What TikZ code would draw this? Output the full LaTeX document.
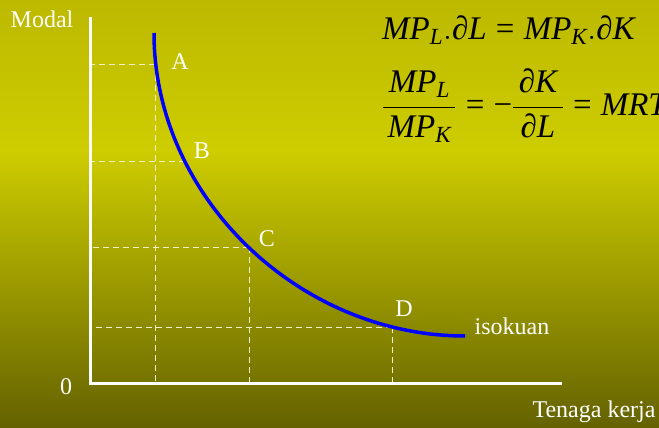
\documentclass[tikz,border=0pt]{standalone}
\usepackage{amsmath}
\usepackage{fix-cm}
\usepackage{fontspec}
\setmainfont{Liberation Serif}
\definecolor{bgtop}{RGB}{188,185,0}
\definecolor{bgmid}{RGB}{206,205,0}
\definecolor{bgbot}{RGB}{100,98,0}
\definecolor{guidecol}{RGB}{240,240,200}
\newcommand{\iv}[1]{\textit{#1}}
\newcommand{\eqs}{\mathrel{\text{=}}}
\newcommand{\mns}{\mathord{\text{−}}}

\begin{document}
\begin{tikzpicture}[x=1pt,y=-1pt,
    axis/.style={white,line width=3pt},
    isoquant/.style={blue,line width=3.5pt},
    guide/.style={guidecol,line width=1pt,dash pattern=on 6pt off 4pt},
    lbl/.style={white,font=\fontsize{24}{28}\selectfont,inner sep=0pt},
    eqn/.style={black,anchor=west,inner sep=0pt,font=\fontsize{33}{40}\selectfont}]
\useasboundingbox (0,0) rectangle (659,428);
\clip (0,0) rectangle (659,428);
\shade[top color=bgtop,bottom color=bgmid] (0,0) rectangle (659,150);
\shade[top color=bgmid,bottom color=bgbot] (0,150) rectangle (659,428);
% axes
\coordinate (O) at (90,383);
\coordinate (ytop) at (90,17);
\coordinate (xend) at (562,383);
% points on the curve
\coordinate (top) at (154,33);
\coordinate (A) at (155,65);
\coordinate (B) at (185,161);
\coordinate (C) at (249,247);
\coordinate (D) at (392,327);
\coordinate (end) at (465,336);
% guides
\draw[guide] (A) -- (A -| O);
\draw[guide] (B) -- (B -| O);
\draw[guide] (C) -- (C -| O);
\draw[guide] (D) -- (D -| O);
\draw[guide] (A) -- (A |- O);
\draw[guide] (C) -- (C |- O);
\draw[guide] (D) -- (D |- O);
\draw[axis] (ytop) -- (O) -- (xend);
\draw[isoquant] (top) .. controls (154,198) and (300,336) .. (end);
\node[lbl] (modal) at (42,19) {Modal};
\node[lbl] (zero) at (66,387) {0};
\node[lbl] (tenaga) at (594,412) {Tenaga kerja};
\node[lbl] (iso) at (512,326) {isokuan};
\node[lbl] (la) at (180,62) {A};
\node[lbl] (lb) at (202,151) {B};
\node[lbl] (lc) at (267,239) {C};
\node[lbl] (ld) at (404,309) {D};
\node[eqn] (eq1) at (382,30)
  {$\iv{MP}_{\iv{L}}.\iv{∂L}\eqs\iv{MP}_{\iv{K}}.\iv{∂K}$};
\node[eqn] (eq2) at (382,106)
  {$\dfrac{\,\iv{MP}_{\iv{L}}\,}{\iv{MP}_{\iv{K}}}\eqs\mns\dfrac{\,\iv{∂K}\,}{\iv{∂L}}\eqs\iv{MRTS}$};
\end{tikzpicture}
\end{document}
